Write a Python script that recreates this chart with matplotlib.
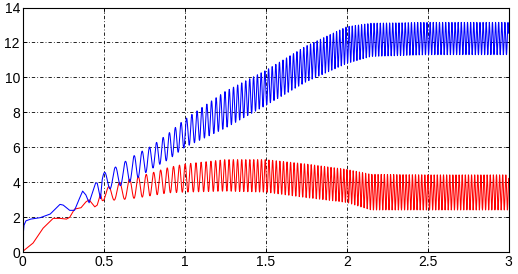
import numpy as np
import matplotlib
matplotlib.use("Agg")
import matplotlib.pyplot as plt

# early part, read point by point (t, value)
blue_t0 = [0.0, 0.003, 0.008, 0.02, 0.05, 0.108, 0.17, 0.23, 0.25, 0.29, 0.32, 0.35, 0.37, 0.39, 0.41, 0.45, 0.46, 0.48]
blue_v0 = [0.3, 1.0, 1.55, 1.8, 1.9, 1.98, 2.19, 2.74, 2.7, 2.4, 2.4, 3.07, 3.5, 3.28, 2.83, 3.96, 3.96, 3.07]
red_t0 = [0.0, 0.064, 0.126, 0.188, 0.23, 0.27, 0.29, 0.32, 0.36, 0.39, 0.41, 0.445, 0.46, 0.48]
red_v0 = [0.05, 0.53, 1.38, 1.94, 1.94, 1.9, 2.0, 2.47, 2.55, 2.88, 3.0, 2.6, 2.7, 3.33]

# oscillating part: envelopes read at knot times
env_t = [0.49, 0.6, 0.7, 0.8, 0.9, 1.0, 1.25, 1.5, 1.75, 2.0, 2.15, 2.5, 3.0]
blue_top = [4.5, 5.0, 5.6, 6.1, 6.8, 7.6, 9.2, 10.4, 11.8, 12.9, 13.1, 13.15, 13.15]
blue_bot = [3.5, 3.8, 4.2, 4.8, 5.3, 6.0, 7.1, 8.4, 9.75, 10.8, 11.2, 11.3, 11.3]
red_top = [3.6, 4.0, 4.3, 4.55, 4.85, 5.05, 5.3, 5.3, 5.05, 4.74, 4.46, 4.43, 4.43]
red_bot = [2.95, 3.0, 3.1, 3.25, 3.4, 3.44, 3.5, 3.44, 3.13, 2.85, 2.42, 2.42, 2.42]

# oscillation frequency (Hz) read from peak spacing
freq_t = [0.49, 0.6, 0.7, 0.8, 0.95, 1.2, 1.5, 2.0, 3.0]
freq_f = [14, 16, 20, 23, 28, 36, 44, 52, 52]
first_peak = 0.505
red_lag = 0.025

t = np.arange(0.49, 3.0, 0.0005)
f = np.interp(t, freq_t, freq_f)
phase = 2 * np.pi * np.cumsum(f) * 0.0005
phase -= np.interp(first_peak, t, phase)
red_phase = phase - 2 * np.pi * np.interp(t, freq_t, freq_f) * red_lag


def series(top, bot, ph):
    hi = np.interp(t, env_t, top)
    lo = np.interp(t, env_t, bot)
    return (hi + lo) / 2 + (hi - lo) / 2 * np.cos(ph)


blue_t = np.concatenate([blue_t0, t])
blue_v = np.concatenate([blue_v0, series(blue_top, blue_bot, phase)])
red_t = np.concatenate([red_t0, t])
red_v = np.concatenate([red_v0, series(red_top, red_bot, red_phase)])

plt.rcParams["font.family"] = ["Liberation Sans", "DejaVu Sans"]
fig = plt.figure(figsize=(5.18, 2.74), dpi=100)
ax = fig.add_axes([22.7 / 518, 21.7 / 274, 486 / 518, 244.8 / 274])

ax.plot(red_t, red_v, color=(1, 0, 0), lw=0.75)
ax.plot(blue_t, blue_v, color=(0, 0, 1), lw=0.75)

ax.set_xlim(0, 3)
ax.set_ylim(0, 14)
ax.set_xticks([0, 0.5, 1, 1.5, 2, 2.5, 3])
ax.set_xticklabels(["0", "0.5", "1", "1.5", "2", "2.5", "3"])
ax.set_yticks(range(0, 15, 2))
ax.grid(True, color="black", lw=0.6, linestyle=(0, (4, 2.5, 1, 2.5)))
ax.tick_params(direction="in", length=3, width=0.6, labelsize=10, pad=2,
               top=True, right=True)
for s in ax.spines.values():
    s.set_linewidth(0.8)

fig.savefig("out.png", dpi=100)
